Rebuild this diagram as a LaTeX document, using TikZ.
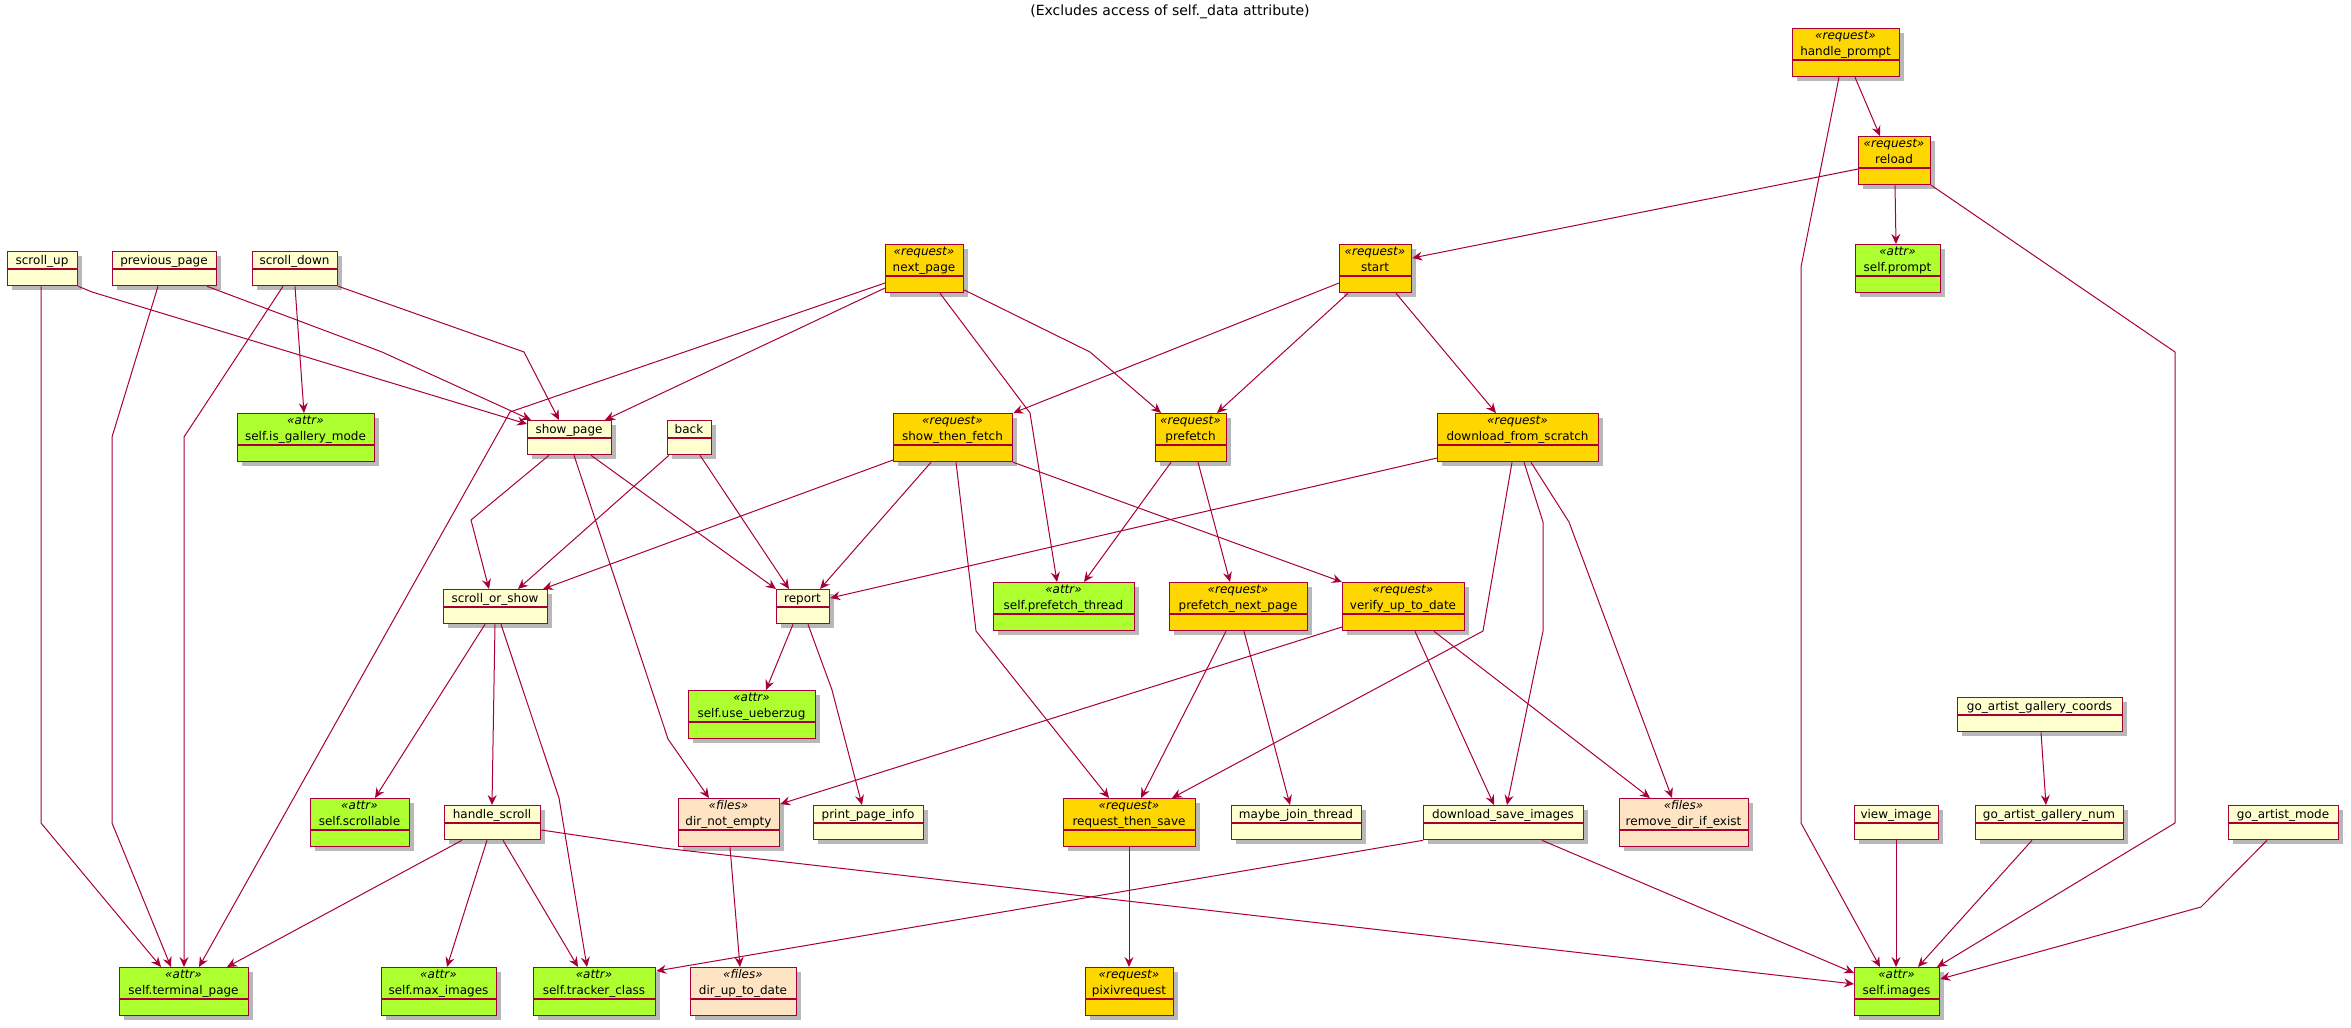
\documentclass[tikz,border=0pt]{standalone}
\usepackage{fontspec}
\setmainfont{DejaVu Sans}
\usetikzlibrary{arrows.meta,shadows}
\definecolor{bord}{HTML}{A80036}
\definecolor{plainfill}{HTML}{FEFECE}
\definecolor{reqfill}{HTML}{FFD700}
\definecolor{attrfill}{HTML}{ADFF2F}
\definecolor{filesfill}{HTML}{FFE4C4}
\newcommand\umlfont{\fontsize{12}{14}\selectfont}
\tikzset{
  umlbox/.style={draw=bord,line width=1.3pt,inner sep=0pt,
    drop shadow={shadow xshift=4pt,shadow yshift=-4pt,opacity=0.28,fill=black}},
  sepline/.style={draw=bord,line width=1.3pt},
  umltext/.style={inner sep=0pt,font=\umlfont,text height=8pt,text depth=1pt},
  conn/.style={draw=bord,line width=1pt,line join=round,-{Stealth[length=10pt,width=9pt,inset=3.5pt]}},
}
% name, fill, x1, y1, x2, text
\newcommand\plainbox[6]{%
  \node[umlbox,fill=#2,minimum width={(#5-#3)*1pt},minimum height=34pt,anchor=north west] (#1) at (#3,#4) {};
  \draw[sepline] (#3,#4+18) -- (#5,#4+18);
  \node[umltext] (#1-n) at ({(#3+#5)/2},#4+9.5) {#6};
}
% name, fill, x1, y1, x2, stereotype, text
\newcommand\stbox[7]{%
  \node[umlbox,fill=#2,minimum width={(#5-#3)*1pt},minimum height=48pt,anchor=north west] (#1) at (#3,#4) {};
  \draw[sepline] (#3,#4+32) -- (#5,#4+32);
  \node[umltext,font=\umlfont\itshape] (#1-s) at ({(#3+#5)/2},#4+8) {«#6»};
  \node[umltext] (#1-n) at ({(#3+#5)/2},#4+23.5) {#7};
}
\begin{document}
\begin{tikzpicture}[x=1pt,y=-1pt]
\useasboundingbox (0,0) rectangle (2351,1028);
\fill[white] (0,0) rectangle (2351,1028);
\node[inner sep=0pt,font=\fontsize{14}{16}\selectfont,text height=10pt,text depth=2pt] (title) at (1170,11) {(Excludes access of self.\_data attribute)};

\stbox{hp}{reqfill}{1792}{28}{1899}{request}{handle\_prompt}
\stbox{rl}{reqfill}{1858}{136}{1930}{request}{reload}
\stbox{sp}{attrfill}{1855}{244}{1940}{attr}{self.prompt}
\plainbox{su}{plainfill}{7}{251}{77}{scroll\_up}
\plainbox{pp}{plainfill}{112}{251}{216}{previous\_page}
\plainbox{sd}{plainfill}{252}{251}{337}{scroll\_down}
\stbox{np}{reqfill}{885}{244}{963}{request}{next\_page}
\stbox{st}{reqfill}{1339}{244}{1411}{request}{start}
\stbox{gm}{attrfill}{237}{413}{374}{attr}{self.is\_gallery\_mode}
\plainbox{shp}{plainfill}{527}{420}{611}{show\_page}
\plainbox{bk}{plainfill}{667}{420}{711}{back}
\stbox{stf}{reqfill}{893}{413}{1012}{request}{show\_then\_fetch}
\stbox{pf}{reqfill}{1155}{413}{1226}{request}{prefetch}
\stbox{dfs}{reqfill}{1437}{413}{1598}{request}{download\_from\_scratch}
\plainbox{sos}{plainfill}{443}{589}{547}{scroll\_or\_show}
\plainbox{rp}{plainfill}{776}{589}{829}{report}
\stbox{pt}{attrfill}{993}{582}{1134}{attr}{self.prefetch\_thread}
\stbox{pnp}{reqfill}{1169}{582}{1307}{request}{prefetch\_next\_page}
\stbox{vu}{reqfill}{1342}{582}{1464}{request}{verify\_up\_to\_date}
\stbox{uu}{attrfill}{688}{690}{815}{attr}{self.use\_ueberzug}
\plainbox{gc}{plainfill}{1957}{697}{2122}{go\_artist\_gallery\_coords}
\stbox{sc}{attrfill}{310}{798}{409}{attr}{self.scrollable}
\plainbox{hs}{plainfill}{444}{805}{540}{handle\_scroll}
\stbox{dn}{filesfill}{678}{798}{779}{files}{dir\_not\_empty}
\plainbox{ppi}{plainfill}{813}{805}{923}{print\_page\_info}
\stbox{rts}{reqfill}{1063}{798}{1195}{request}{request\_then\_save}
\plainbox{mjt}{plainfill}{1231}{805}{1361}{maybe\_join\_thread}
\plainbox{dsi}{plainfill}{1423}{805}{1583}{download\_save\_images}
\stbox{rd}{filesfill}{1619}{798}{1748}{files}{remove\_dir\_if\_exist}
\plainbox{vi}{plainfill}{1854}{805}{1938}{view\_image}
\plainbox{gn}{plainfill}{1975}{805}{2123}{go\_artist\_gallery\_num}
\plainbox{gam}{plainfill}{2228}{805}{2338}{go\_artist\_mode}
\stbox{tp}{attrfill}{119}{967}{248}{attr}{self.terminal\_page}
\stbox{mi}{attrfill}{381}{967}{496}{attr}{self.max\_images}
\stbox{tc}{attrfill}{533}{967}{655}{attr}{self.tracker\_class}
\stbox{du}{filesfill}{690}{967}{796}{files}{dir\_up\_to\_date}
\stbox{pr}{reqfill}{1085}{967}{1173}{request}{pixivrequest}
\stbox{im}{attrfill}{1854}{967}{1939}{attr}{self.images}

\draw[conn] (hp.south -| 1855,0) -- (rl.north -| 1880,0);
\draw[conn] (hp.south -| 1839,0) -- (1801,267) -- (1801,823) -- (im.north -| 1880,0);
\draw[conn] (rl.west |- 0,169) -- (st.east |- 0,258);
\draw[conn] (rl.south -| 1895,0) -- (sp.north -| 1896,0);
\draw[conn] (rl.south east) -- (2175,352) -- (2175,823) -- (im.north -| 1937,0);
\draw[conn] (st.west |- 0,283) -- (stf.north east);
\draw[conn] (st.south -| 1348,0) -- (pf.north -| 1217,0);
\draw[conn] (st.south -| 1396,0) -- (dfs.north -| 1496,0);
\draw[conn] (np.west |- 0,288) -- (shp.north -| 605,0);
\draw[conn] (np.west |- 0,283) -- (510,412) -- (tp.north -| 199,0);
\draw[conn] (np.south -| 940,0) -- (1030,413) -- (pt.north -| 1057,0);
\draw[conn] (np.east |- 0,290) -- (1090,352) -- (pf.north -| 1161,0);
\draw[conn] (su.south east) -- (92,292) -- (shp.west |- 0,424);
\draw[conn] (su.south -| 41,0) -- (41,823) -- (tp.north -| 161,0);
\draw[conn] (pp.south -| 207,0) -- (382,352) -- (shp.north -| 531,0);
\draw[conn] (pp.south -| 158,0) -- (112,437) -- (112,823) -- (tp.north -| 171,0);
\draw[conn] (sd.south east) -- (524,352) -- (shp.north -| 559,0);
\draw[conn] (sd.south -| 295,0) -- (gm.north -| 304,0);
\draw[conn] (sd.south -| 283,0) -- (184,437) -- (tp.north -| 184,0);
\draw[conn] (shp.south -| 549,0) -- (471,520) -- (sos.north -| 489,0);
\draw[conn] (shp.south -| 591,0) -- (rp.north west);
\draw[conn] (shp.south -| 574,0) -- (668,739) -- (dn.north -| 709,0);
\draw[conn] (bk.south -| 669,0) -- (sos.north -| 518,0);
\draw[conn] (bk.south -| 700,0) -- (rp.north -| 789,0);
\draw[conn] (stf.west |- 0,460) -- (sos.north -| 543,0);
\draw[conn] (stf.south -| 931,0) -- (rp.north -| 820,0);
\draw[conn] (stf.south -| 956,0) -- (976,631) -- (rts.north -| 1109,0);
\draw[conn] (stf.south east) -- (vu.north west);
\draw[conn] (pf.south -| 1171,0) -- (pt.north -| 1084,0);
\draw[conn] (pf.south -| 1198,0) -- (pnp.north -| 1230,0);
\draw[conn] (dfs.west |- 0,458) -- (rp.east |- 0,598);
\draw[conn] (dfs.south -| 1512,0) -- (1483,631) -- (rts.north -| 1172,0);
\draw[conn] (dfs.south -| 1524,0) -- (1543,522) -- (1543,631) -- (dsi.north -| 1507,0);
\draw[conn] (dfs.south -| 1531,0) -- (1569,522) -- (rd.north -| 1672,0);
\draw[conn] (rp.south -| 793,0) -- (uu.north -| 766,0);
\draw[conn] (rp.south -| 808,0) -- (832,690) -- (ppi.north -| 862,0);
\draw[conn] (vu.west |- 0,627) -- (dn.east |- 0,804);
\draw[conn] (vu.south -| 1415,0) -- (dsi.north -| 1494,0);
\draw[conn] (vu.south -| 1434,0) -- (rd.north -| 1650,0);
\draw[conn] (pnp.south -| 1226,0) -- (rts.north -| 1141,0);
\draw[conn] (pnp.south -| 1244,0) -- (mjt.north -| 1290,0);
\draw[conn] (rts.south -| 1129,0) -- (pr.north -| 1129,0);
\draw[conn] (sos.south -| 485,0) -- (sc.north -| 375,0);
\draw[conn] (sos.south -| 495,0) -- (hs.north -| 492,0);
\draw[conn] (sos.south -| 501,0) -- (559,798) -- (tc.north -| 587,0);
\draw[conn] (hs.south -| 462,0) -- (tp.north -| 227,0);
\draw[conn] (hs.south -| 487,0) -- (mi.north -| 447,0);
\draw[conn] (hs.south -| 503,0) -- (tc.north -| 578,0);
\draw[conn] (hs.east |- 0,830) -- (663,848) -- (im.west |- 0,984);
\draw[conn] (dn.south -| 730,0) -- (du.north -| 740,0);
\draw[conn] (dsi.south west) -- (tc.east |- 0,971);
\draw[conn] (dsi.south -| 1542,0) -- (im.west |- 0,973);
\draw[conn] (vi.south -| 1896,0) -- (im.north -| 1896,0);
\draw[conn] (gc.south -| 2041,0) -- (gn.north -| 2046,0);
\draw[conn] (gn.south -| 2032,0) -- (im.north -| 1918,0);
\draw[conn] (gam.south -| 2267,0) -- (2201,907) -- (im.east |- 0,979);
\end{tikzpicture}
\end{document}
